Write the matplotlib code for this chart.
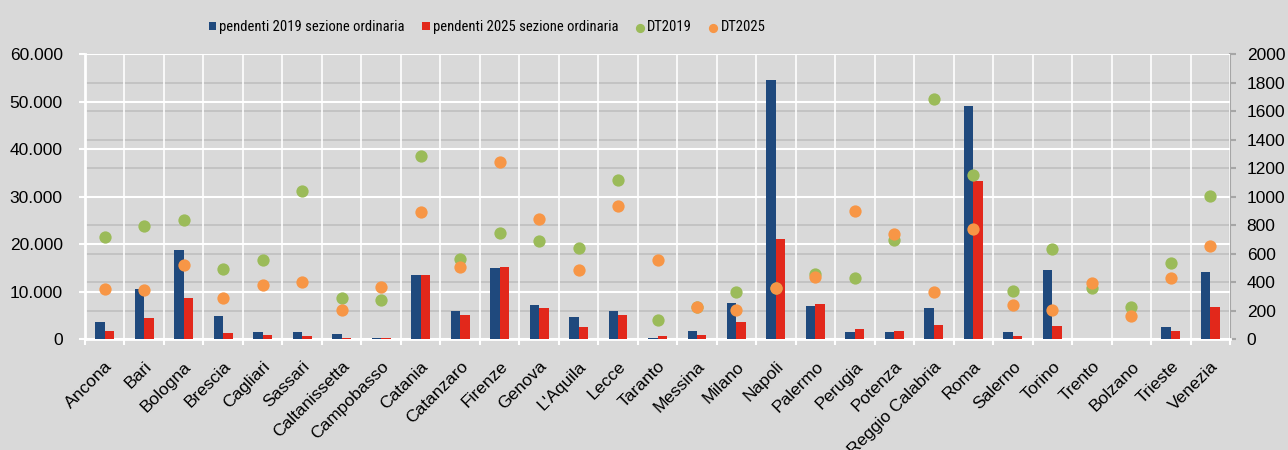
import numpy as np
import matplotlib
matplotlib.use("Agg")
import matplotlib.pyplot as plt
from matplotlib import font_manager as fm
from matplotlib.ticker import FuncFormatter, FixedLocator, MultipleLocator

# Data
sedi = ["Ancona", "Bari", "Bologna", "Brescia", "Cagliari", "Sassari", "Caltanissetta",
        "Campobasso", "Catania", "Catanzaro", "Firenze", "Genova", "L'Aquila", "Lecce",
        "Taranto", "Messina", "Milano", "Napoli", "Palermo", "Perugia", "Potenza",
        "Reggio Calabria", "Roma", "Salerno", "Torino", "Trento", "Bolzano", "Trieste",
        "Venezia"]
pend_2019 = [3700, 10640, 18780, 4900, 1540, 1540, 1050, 270, 13460, 6020, 14930, 7210,
             4690, 5890, 270, 1750, 7700, 54600, 6940, 1470, 1470, 6520, 49130, 1540,
             14570, 150, 40, 2590, 14090]
pend_2025 = [1750, 4400, 8690, 1260, 840, 700, 350, 250, 13460, 5110, 15140, 6580,
             2590, 5180, 700, 970, 3640, 21090, 7360, 2230, 1680, 2940, 33290, 630,
             2730, 150, 30, 1810, 6790]
dt_2019 = [717, 794, 834, 493, 558, 1040, 287, 278, 1283, 565, 747, 687, 640, 1114, 138,
           225, 331, 360, 456, 428, 696, 1687, 1152, 339, 631, 360, 229, 533, 1005]
dt_2025 = [355, 343, 521, 290, 383, 400, 203, 367, 895, 505, 1245, 845, 488, 937, 558,
           229, 203, 362, 434, 897, 740, 329, 775, 238, 208, 397, 163, 428, 654]

BLUE = "#1f497d"
RED = "#e2281b"
GREEN = "#9bbb59"
ORANGE = "#f79646"
BG = "#d9d9d9"

plt.rcParams["font.family"] = ["Liberation Sans", "DejaVu Sans"]


def narrow_font():
    # the legend uses a condensed face; take whichever one is installed
    cands = [("Liberation Sans Narrow", "normal"), ("Roboto Condensed", "normal"),
             ("Liberation Sans", "condensed"), ("Noto Sans", "condensed"),
             ("Roboto", "condensed"), ("Open Sans", "condensed"), ("DejaVu Sans", "condensed")]
    for fam, st in cands:
        try:
            path = fm.findfont(fm.FontProperties(family=fam, stretch=st),
                               fallback_to_default=False)
        except ValueError:
            continue
        low = path.lower()
        if "narrow" in low or "condensed" in low:
            return path
    return None


fig = plt.figure(figsize=(12.88, 4.5), dpi=100, facecolor=BG)
ax = fig.add_axes([85 / 1288, (450 - 339.3) / 450, (1230 - 85) / 1288, (339.3 - 54) / 450])
ax2 = ax.twinx()
ax2.set_zorder(1)
ax.set_zorder(2)
ax.patch.set_visible(False)
ax2.patch.set_visible(False)

x = np.arange(len(sedi))
w = 0.24
b1 = ax.bar(x - w / 2, pend_2019, width=w, color=BLUE, label="pendenti 2019 sezione ordinaria", zorder=3)
b2 = ax.bar(x + w / 2, pend_2025, width=w, color=RED, label="pendenti 2025 sezione ordinaria", zorder=3)
s1 = ax.scatter(x, dt_2019, s=78, color=GREEN, linewidths=0, transform=ax2.transData,
                label="DT2019", zorder=4)
s2 = ax.scatter(x, dt_2025, s=78, color=ORANGE, linewidths=0, transform=ax2.transData,
                label="DT2025", zorder=5)

# left axis
ax.set_ylim(0, 60000)
ax.set_xlim(-0.5, len(sedi) - 0.5)
ax.yaxis.set_major_locator(MultipleLocator(10000))
ax.yaxis.set_major_formatter(FuncFormatter(lambda v, p: f"{int(v):,}".replace(",", ".")))
ax.set_axisbelow(True)
ax.grid(axis="y", which="major", color="white", linewidth=1.5)
ax.xaxis.set_minor_locator(FixedLocator(np.arange(len(sedi) + 1) - 0.5))
ax.grid(axis="x", which="minor", color="white", linewidth=1.2)
ax.set_xticks(x)
ax.set_xticklabels(sedi, rotation=45, ha="right", rotation_mode="anchor", fontsize=12.5)
ax.tick_params(axis="x", which="major", length=0, pad=14)
ax.tick_params(axis="x", which="minor", length=4, width=1.5, color="white", direction="out")
ax.tick_params(axis="y", length=4, width=1.5, color="white", direction="out", pad=12,
               labelsize=12.5)
for s in ["top", "right"]:
    ax.spines[s].set_visible(False)
ax.spines["left"].set_color("white")
ax.spines["left"].set_linewidth(2)
ax.spines["bottom"].set_color("white")
ax.spines["bottom"].set_linewidth(2)

# right axis
ax2.set_ylim(0, 2000)
ax2.yaxis.set_major_locator(MultipleLocator(200))
ax2.grid(axis="y", color="#bfbfbf", linewidth=1.2)
ax2.tick_params(axis="y", length=4, width=1.5, color="#a6a6a6", direction="out", pad=8,
                labelsize=12.5)
for s in ["top", "left", "bottom"]:
    ax2.spines[s].set_visible(False)
ax2.spines["right"].set_color("#a6a6a6")
ax2.spines["right"].set_linewidth(1.5)

# legend
npath = narrow_font()
if npath:
    lprop = fm.FontProperties(fname=npath, size=10.5)
else:
    lprop = fm.FontProperties(family="Liberation Sans", size=9)
handles = [b1, b2, s1, s2]
labels = [h.get_label() for h in handles]
fig.legend(handles, labels, loc="center", bbox_to_anchor=(487 / 1288, 1 - 27 / 450),
           ncol=4, frameon=False, prop=lprop, handlelength=0.5, handleheight=0.5,
           handletextpad=0.25, columnspacing=1.2, markerscale=0.75, borderpad=0,
           borderaxespad=0)

fig.savefig("out.png", dpi=100, facecolor=BG)
